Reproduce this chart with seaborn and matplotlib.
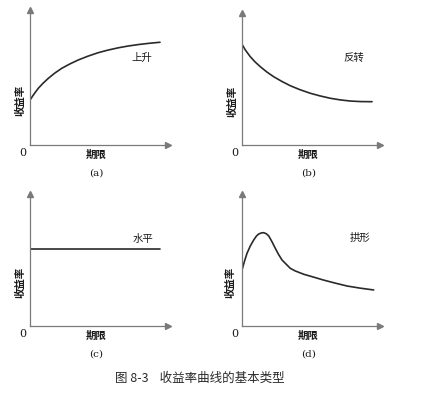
import matplotlib
matplotlib.use("Agg")
import matplotlib.pyplot as plt
import seaborn as sns
import pandas as pd

sns.set_style("white")
plt.rcParams["font.family"] = ["Noto Sans CJK SC", "DejaVu Sans"]

# curve values (term, yield), arbitrary units 0..10
rise_term = [0, 0.24, 0.60, 0.95, 1.33, 1.80, 2.30, 2.90, 3.50, 4.20,
             4.95, 5.65, 6.40, 7.10, 7.85, 8.60, 9.42]
rise_yield = [3.33, 3.70, 4.20, 4.58, 4.94, 5.33, 5.68, 6.01, 6.30, 6.58,
              6.84, 7.03, 7.20, 7.33, 7.44, 7.53, 7.61]

invert_term = [0, 0.24, 0.60, 0.95, 1.33, 1.80, 2.30, 2.90, 3.50, 4.20,
               4.95, 5.65, 6.40, 7.10, 7.85, 8.60, 9.42]
invert_yield = [7.63, 7.20, 6.69, 6.29, 5.93, 5.53, 5.17, 4.81, 4.49, 4.19,
                3.92, 3.72, 3.54, 3.42, 3.33, 3.29, 3.28]

flat_term = [0, 9.42]
flat_yield = [5.83, 5.83]

hump_term = [0, 0.17, 0.36, 0.60, 0.85, 1.05, 1.21, 1.40, 1.57, 1.76,
             1.94, 2.17, 2.41, 2.65, 2.90, 3.26, 3.50, 3.86, 4.47, 5.20,
             5.91, 6.75, 7.61, 8.55, 9.54]
hump_yield = [4.24, 4.87, 5.50, 6.06, 6.52, 6.82, 6.97, 7.05, 7.07, 6.99,
              6.82, 6.39, 5.89, 5.42, 5.00, 4.62, 4.37, 4.17, 3.92, 3.70,
              3.48, 3.25, 3.03, 2.87, 2.73]

curve_names = ["上升", "反转", "水平", "拱形"]
panel_tags = ["(a)", "(b)", "(c)", "(d)"]
xlabel = "期限"
ylabel = "收益率"
caption = "图 8-3    收益率曲线的基本类型"

W, H = 434, 393
fig = plt.figure(figsize=(W / 100, H / 100), dpi=100)

# axes boxes in pixels: left, top, right, bottom
boxes = [(30, 10, 168, 145), (242, 13, 380, 145),
         (30, 194, 168, 326), (242, 194, 380, 326)]
series = [(rise_term, rise_yield), (invert_term, invert_yield),
          (flat_term, flat_yield), (hump_term, hump_yield)]
name_pos = [(8.1, 6.44), (8.1, 6.59), (8.2, 6.6), (8.55, 6.67)]
ylab_x = [-0.72, -0.72, -0.72, -0.85]

axis_col = "#7a7a7a"
line_col = "#2a2a2a"
text_col = "#1a1a1a"

for i, ((l, t, r, b), (xs, ys)) in enumerate(zip(boxes, series)):
    ax = fig.add_axes([l / W, 1 - b / H, (r - l) / W, (b - t) / H])
    df = pd.DataFrame({"term": xs, "yield": ys})
    sns.lineplot(data=df, x="term", y="yield", ax=ax, color=line_col,
                 linewidth=1.2, sort=False)
    ax.set_xlim(0, 10)
    ax.set_ylim(0, 10)
    ax.set_xticks([])
    ax.set_yticks([])
    ax.set_xlabel("")
    ax.set_ylabel("")
    for s in ["top", "right"]:
        ax.spines[s].set_visible(False)
    for s in ["left", "bottom"]:
        ax.spines[s].set_color(axis_col)
        ax.spines[s].set_linewidth(0.9)
    ax.plot([10], [0], marker=">", color=axis_col, markersize=4, clip_on=False)
    ax.plot([0], [10], marker="^", color=axis_col, markersize=4, clip_on=False)

    ax.text(-0.5, -0.6, "0", family="DejaVu Serif", fontsize=8,
            color=text_col, ha="center", va="center", clip_on=False)
    ax.text(4.8, -0.75, xlabel, fontsize=7.5, fontweight="bold",
            color=text_col, ha="center", va="center", clip_on=False)
    ax.text(4.8, -2.1, panel_tags[i], family="DejaVu Serif", fontsize=7.5,
            color=text_col, ha="center", va="center", clip_on=False)
    ax.text(ylab_x[i], 3.3, ylabel, fontsize=7.5, fontweight="bold", rotation=90,
            color=text_col, ha="center", va="center", clip_on=False)
    nx, ny = name_pos[i]
    ax.text(nx, ny, curve_names[i], fontsize=7.5, fontweight="medium",
            color=text_col, ha="center", va="center", clip_on=False)

fig.text(200 / W, 1 - 378 / H, caption, fontsize=9, fontweight="medium",
         color="#2a2a2a", ha="center", va="center")

fig.savefig("out.png", dpi=100)
